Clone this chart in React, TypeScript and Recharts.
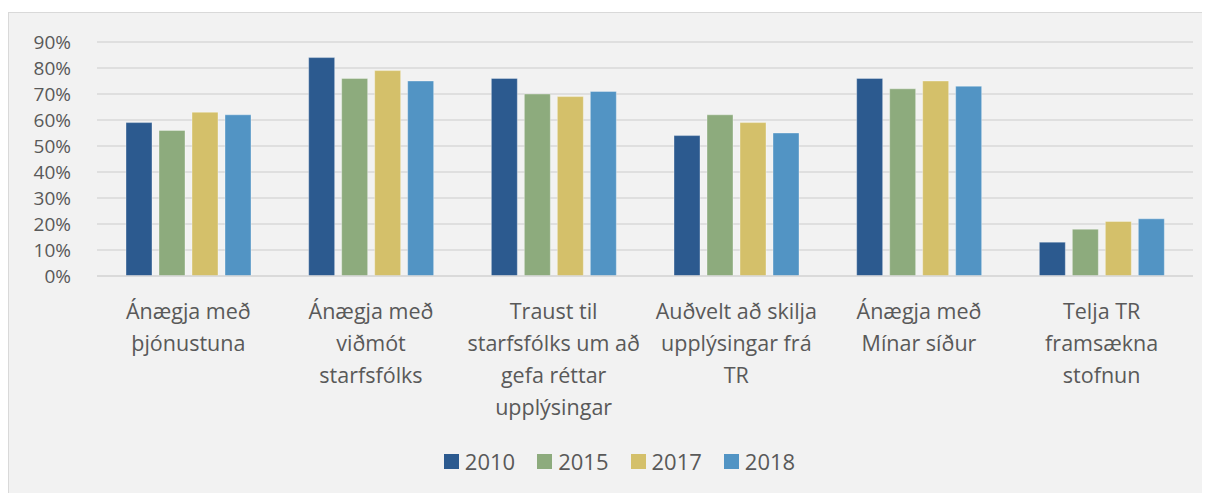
import { Bar, BarChart, CartesianGrid, Legend, XAxis, YAxis } from "recharts"

const categories = [
  "Ánægja með\nþjónustuna",
  "Ánægja með\nviðmót\nstarfsfólks",
  "Traust til\nstarfsfólks um að\ngefa réttar\nupplýsingar",
  "Auðvelt að skilja\nupplýsingar frá\nTR",
  "Ánægja með\nMínar síður",
  "Telja TR\nframsækna\nstofnun",
]

const v2010 = [59, 84, 76, 54, 76, 13]
const v2015 = [56, 76, 70, 62, 72, 18]
const v2017 = [63, 79, 69, 59, 75, 21]
const v2018 = [62, 75, 71, 55, 73, 22]

const yTicks = [0, 10, 20, 30, 40, 50, 60, 70, 80, 90]

const series = [
  { key: "y2010", name: "2010", color: "#2c5a8f" },
  { key: "y2015", name: "2015", color: "#8dab7d" },
  { key: "y2017", name: "2017", color: "#d4c06a" },
  { key: "y2018", name: "2018", color: "#5294c4" },
]

const data = categories.map((c, i) => ({
  name: c,
  y2010: v2010[i],
  y2015: v2015[i],
  y2017: v2017[i],
  y2018: v2018[i],
}))

const font = "'Open Sans', 'Noto Sans', sans-serif"
const textColor = "#595959"

function CategoryTick(props: any) {
  const { x, y, payload } = props
  const lines = String(payload.value).split("\n")
  return (
    <text x={x} y={y} textAnchor="middle" fill={textColor} fontSize={21.5} fontFamily={font}>
      {lines.map((l, i) => (
        <tspan key={i} x={x} dy={i === 0 ? 35 : 32}>
          {l}
        </tspan>
      ))}
    </text>
  )
}

function LegendContent() {
  return (
    <div style={{ display: "flex", justifyContent: "center", gap: 22, paddingLeft: 20, fontFamily: font, lineHeight: "30px" }}>
      {series.map((s) => (
        <div key={s.key} style={{ display: "flex", alignItems: "center", gap: 6 }}>
          <span style={{ width: 15, height: 15, background: s.color, display: "inline-block" }} />
          <span style={{ fontSize: 22, color: textColor }}>{s.name}</span>
        </div>
      ))}
    </div>
  )
}

export default function App() {
  return (
    <div
      style={{
        marginTop: 4,
        width: 1202,
        height: 481,
        background: "#f2f2f2",
        borderLeft: "1px solid #d9d9d9",
        borderTop: "1px solid #d9d9d9",
        boxSizing: "border-box",
      }}
    >
      <BarChart
        width={1201}
        height={480}
        data={data}
        margin={{ top: 29, right: 17, bottom: 0, left: 0 }}
        barSize={26}
        barGap={7}
      >
        <CartesianGrid horizontal vertical={false} stroke="#d9d9d9" strokeWidth={1.5} />
        <XAxis
          dataKey="name"
          interval={0}
          tick={<CategoryTick />}
          tickLine={false}
          axisLine={{ stroke: "#d9d9d9", strokeWidth: 1.5 }}
          height={187}
        />
        <YAxis
          domain={[0, 90]}
          ticks={yTicks}
          interval={0}
          tickFormatter={(v) => `${v}%`}
          tickLine={false}
          axisLine={false}
          width={88}
          tickMargin={20}
          tick={{ fill: textColor, fontSize: 19, fontFamily: font }}
        />
        <Legend content={<LegendContent />} wrapperStyle={{ left: 0, width: 1201, top: 433 }} />
        {series.map((s) => (
          <Bar
            key={s.key}
            dataKey={s.key}
            name={s.name}
            fill={s.color}
            stroke="#ffffff"
            strokeOpacity={0.35}
            strokeWidth={1}
            isAnimationActive={false}
          />
        ))}
      </BarChart>
    </div>
  )
}
